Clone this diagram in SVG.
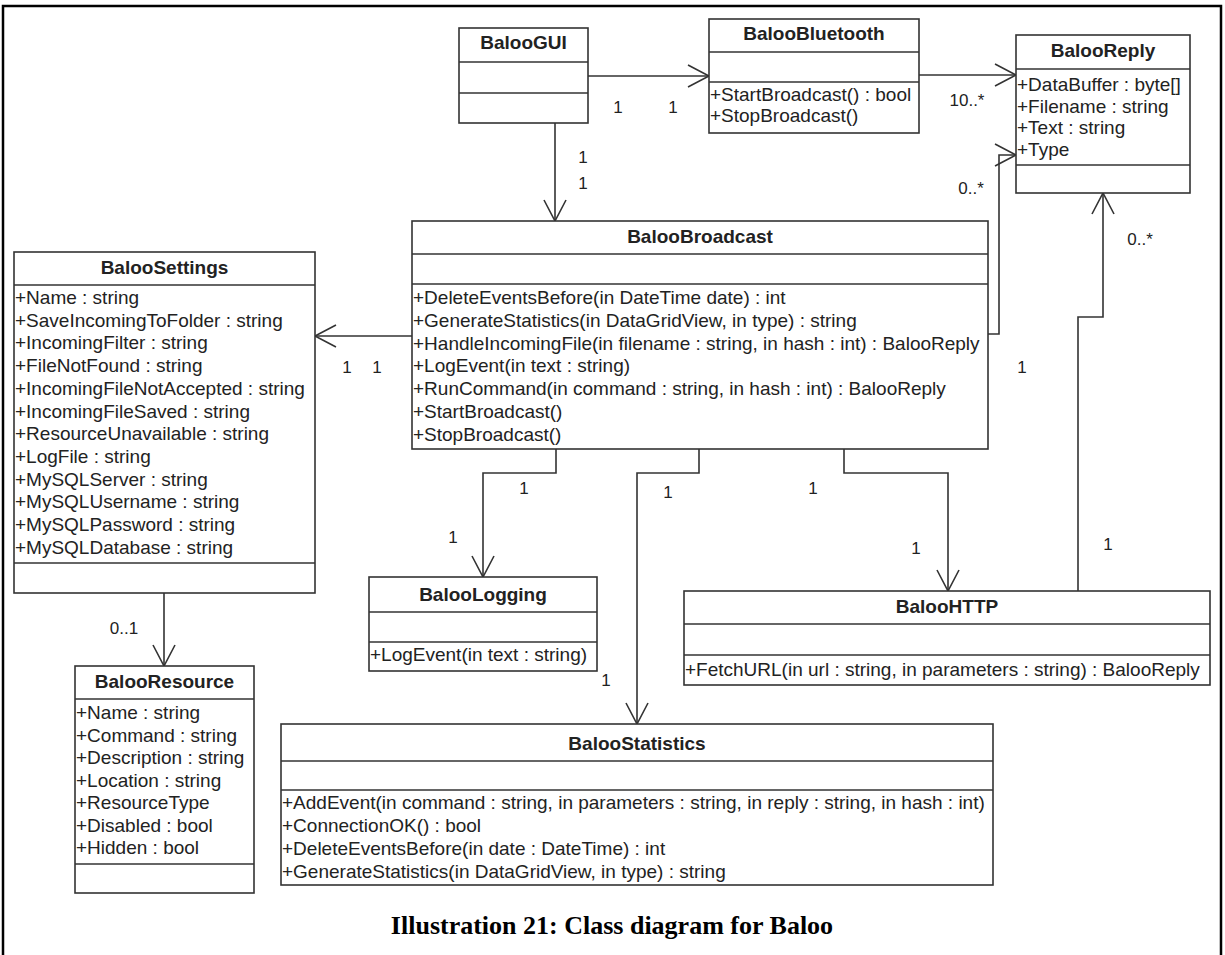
<svg xmlns="http://www.w3.org/2000/svg" width="1225" height="955" viewBox="0 0 1225 955">
<style>
.box{fill:#fff;stroke:#333;stroke-width:1.6}
.div{stroke:#333;stroke-width:1.6}
.t{font-family:"Liberation Sans",Arial,sans-serif;font-size:19px;font-weight:bold;fill:#222;text-anchor:middle}
.m{font-family:"Liberation Sans",Arial,sans-serif;font-size:19px;fill:#222}
.lb{font-family:"Liberation Sans",Arial,sans-serif;font-size:17px;fill:#222;text-anchor:middle}
.c{fill:none;stroke:#333;stroke-width:1.6;marker-end:url(#open)}
.cap{font-family:"Liberation Serif","Times New Roman",serif;font-size:26px;font-weight:bold;fill:#000;text-anchor:middle}
</style>
<defs>
<marker id="open" markerUnits="userSpaceOnUse" markerWidth="26" markerHeight="26" viewBox="-23 -13 26 26" refX="0" refY="0" orient="auto">
<path d="M-21,-11 L0,0 L-21,11" fill="none" stroke="#333" stroke-width="1.6"/>
</marker>
</defs>
<rect width="1225" height="955" fill="#fff"/>
<path d="M3,975 L3,6 L1221,6 L1221,975" fill="none" stroke="#000" stroke-width="2.5"/>

<g id="connectors">
<path class="c" d="M588,76 L709,76"/>
<path class="c" d="M919,75 L1016,75"/>
<path class="c" d="M555,123 L555,221"/>
<path class="c" d="M412,336 L315,336"/>
<path class="c" d="M988,334 L999,334 L999,155 L1016,155"/>
<path class="c" d="M1078,591 L1078,317 L1103,317 L1103,193"/>
<path class="c" d="M556,449 L556,473 L483,473 L483,577"/>
<path class="c" d="M699,449 L699,473 L637,473 L637,724"/>
<path class="c" d="M844,449 L844,473 L948,473 L948,591"/>
<path class="c" d="M164,593 L164,666"/>
<text class="lb" x="618" y="113">1</text>
<text class="lb" x="673" y="113">1</text>
<text class="lb" x="583" y="163">1</text>
<text class="lb" x="583" y="189">1</text>
<text class="lb" x="967" y="106">10..*</text>
<text class="lb" x="971" y="194">0..*</text>
<text class="lb" x="1140" y="245">0..*</text>
<text class="lb" x="347" y="373">1</text>
<text class="lb" x="377" y="373">1</text>
<text class="lb" x="1022" y="373">1</text>
<text class="lb" x="524" y="494">1</text>
<text class="lb" x="453" y="543">1</text>
<text class="lb" x="668" y="498">1</text>
<text class="lb" x="606" y="686">1</text>
<text class="lb" x="813" y="494">1</text>
<text class="lb" x="916" y="554">1</text>
<text class="lb" x="1108" y="550">1</text>
<text class="lb" x="124" y="634">0..1</text>
</g>

<g id="BalooGUI">
<rect class="box" x="459" y="28" width="129" height="95"/>
<line class="div" x1="459" y1="62" x2="588" y2="62"/>
<line class="div" x1="459" y1="93" x2="588" y2="93"/>
<text class="t" x="523.5" y="49">BalooGUI</text>
</g>

<g id="BalooBluetooth">
<rect class="box" x="709" y="19" width="210" height="114"/>
<line class="div" x1="709" y1="52" x2="919" y2="52"/>
<line class="div" x1="709" y1="82" x2="919" y2="82"/>
<text class="t" x="814" y="40">BalooBluetooth</text>
<text class="m" x="710" y="101">+StartBroadcast() : bool</text>
<text class="m" x="710" y="122">+StopBroadcast()</text>
</g>

<g id="BalooReply">
<rect class="box" x="1016" y="35" width="174" height="158"/>
<line class="div" x1="1016" y1="69" x2="1190" y2="69"/>
<line class="div" x1="1016" y1="165" x2="1190" y2="165"/>
<text class="t" x="1103" y="57">BalooReply</text>
<text class="m" x="1017" y="91">+DataBuffer : byte[]</text>
<text class="m" x="1017" y="112.5">+Filename : string</text>
<text class="m" x="1017" y="134">+Text : string</text>
<text class="m" x="1017" y="155.5">+Type</text>
</g>

<g id="BalooBroadcast">
<rect class="box" x="412" y="221" width="576" height="228"/>
<line class="div" x1="412" y1="254" x2="988" y2="254"/>
<line class="div" x1="412" y1="284" x2="988" y2="284"/>
<text class="t" x="700" y="243">BalooBroadcast</text>
<text class="m" x="413" y="304">+DeleteEventsBefore(in DateTime date) : int</text>
<text class="m" x="413" y="326.8">+GenerateStatistics(in DataGridView, in type) : string</text>
<text class="m" x="413" y="349.6">+HandleIncomingFile(in filename : string, in hash : int) : BalooReply</text>
<text class="m" x="413" y="372.4">+LogEvent(in text : string)</text>
<text class="m" x="413" y="395.2">+RunCommand(in command : string, in hash : int) : BalooReply</text>
<text class="m" x="413" y="418">+StartBroadcast()</text>
<text class="m" x="413" y="440.8">+StopBroadcast()</text>
</g>

<g id="BalooSettings">
<rect class="box" x="14" y="252" width="301" height="341"/>
<line class="div" x1="14" y1="285" x2="315" y2="285"/>
<line class="div" x1="14" y1="563" x2="315" y2="563"/>
<text class="t" x="164.5" y="274">BalooSettings</text>
<text class="m" x="15" y="304">+Name : string</text>
<text class="m" x="15" y="326.7">+SaveIncomingToFolder : string</text>
<text class="m" x="15" y="349.4">+IncomingFilter : string</text>
<text class="m" x="15" y="372.1">+FileNotFound : string</text>
<text class="m" x="15" y="394.8">+IncomingFileNotAccepted : string</text>
<text class="m" x="15" y="417.5">+IncomingFileSaved : string</text>
<text class="m" x="15" y="440.2">+ResourceUnavailable : string</text>
<text class="m" x="15" y="462.9">+LogFile : string</text>
<text class="m" x="15" y="485.6">+MySQLServer : string</text>
<text class="m" x="15" y="508.3">+MySQLUsername : string</text>
<text class="m" x="15" y="531">+MySQLPassword : string</text>
<text class="m" x="15" y="553.7">+MySQLDatabase : string</text>
</g>

<g id="BalooResource">
<rect class="box" x="75" y="666" width="179" height="227"/>
<line class="div" x1="75" y1="699" x2="254" y2="699"/>
<line class="div" x1="75" y1="864" x2="254" y2="864"/>
<text class="t" x="164.5" y="688">BalooResource</text>
<text class="m" x="76" y="719">+Name : string</text>
<text class="m" x="76" y="741.5">+Command : string</text>
<text class="m" x="76" y="764">+Description : string</text>
<text class="m" x="76" y="786.5">+Location : string</text>
<text class="m" x="76" y="809">+ResourceType</text>
<text class="m" x="76" y="831.5">+Disabled : bool</text>
<text class="m" x="76" y="854">+Hidden : bool</text>
</g>

<g id="BalooLogging">
<rect class="box" x="369" y="577" width="228" height="94"/>
<line class="div" x1="369" y1="612" x2="597" y2="612"/>
<line class="div" x1="369" y1="642" x2="597" y2="642"/>
<text class="t" x="483" y="601">BalooLogging</text>
<text class="m" x="370" y="661">+LogEvent(in text : string)</text>
</g>

<g id="BalooHTTP">
<rect class="box" x="684" y="591" width="526" height="94"/>
<line class="div" x1="684" y1="624" x2="1210" y2="624"/>
<line class="div" x1="684" y1="655" x2="1210" y2="655"/>
<text class="t" x="947" y="613">BalooHTTP</text>
<text class="m" x="685" y="676">+FetchURL(in url : string, in parameters : string) : BalooReply</text>
</g>

<g id="BalooStatistics">
<rect class="box" x="281" y="724" width="712" height="161"/>
<line class="div" x1="281" y1="761" x2="993" y2="761"/>
<line class="div" x1="281" y1="790" x2="993" y2="790"/>
<text class="t" x="637" y="750">BalooStatistics</text>
<text class="m" x="282" y="809">+AddEvent(in command : string, in parameters : string, in reply : string, in hash : int)</text>
<text class="m" x="282" y="832">+ConnectionOK() : bool</text>
<text class="m" x="282" y="855">+DeleteEventsBefore(in date : DateTime) : int</text>
<text class="m" x="282" y="878">+GenerateStatistics(in DataGridView, in type) : string</text>
</g>

<text class="cap" x="612" y="934">Illustration 21: Class diagram for Baloo</text>
</svg>
